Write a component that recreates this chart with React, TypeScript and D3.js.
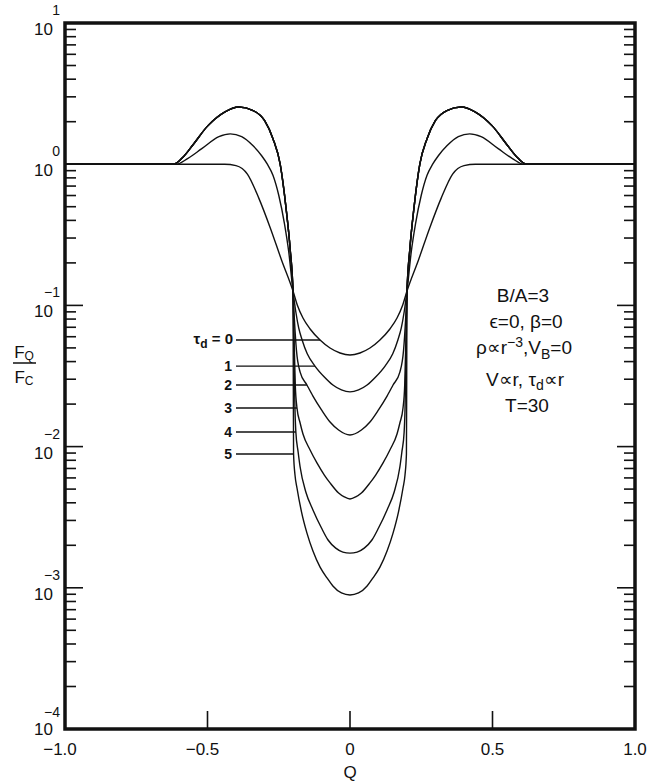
import React from 'react';
import * as d3 from 'd3';

type Pt = [number, number];

// Axis ticks / labels
const qLabelValues = [-1, -0.5, 0, 0.5, 1];
const qLabelTexts = ['−1.0', '−0.5', '0', '0.5', '1.0'];
const qInnerTicks = [-0.5, 0, 0.5];
const decadeExponents = [1, 0, -1, -2, -3, -4];
const decadeExpTexts = ['1', '0', '−1', '−2', '−3', '−4'];
const minorMultipliers = [2, 3, 4, 5, 6, 7, 8, 9];

// Wings (|Q| > 0.2)
const wingHighLeft: Pt[] = [[-1, 1], [-0.62, 1], [-0.59, 1.1], [-0.55, 1.38], [-0.5, 1.86], [-0.44, 2.34], [-0.39, 2.54], [-0.34, 2.4], [-0.3, 2.04], [-0.27, 1.51], [-0.245, 1], [-0.225, 0.501], [-0.21, 0.251]];
const wingHighRight: Pt[] = [[0.21, 0.251], [0.225, 0.501], [0.245, 1], [0.27, 1.51], [0.3, 2.04], [0.34, 2.4], [0.39, 2.54], [0.44, 2.34], [0.5, 1.86], [0.55, 1.38], [0.59, 1.1], [0.62, 1], [1, 1]];
const wingMidLeft: Pt[] = [[-1, 1], [-0.61, 1], [-0.57, 1.096], [-0.52, 1.288], [-0.46, 1.567], [-0.42, 1.641], [-0.38, 1.567], [-0.34, 1.349], [-0.31, 1.148], [-0.29, 1], [-0.27, 0.832], [-0.25, 0.603], [-0.23, 0.38], [-0.215, 0.24]];
const wingMidRight: Pt[] = [[0.215, 0.24], [0.23, 0.38], [0.25, 0.603], [0.27, 0.832], [0.29, 1], [0.31, 1.148], [0.34, 1.349], [0.38, 1.567], [0.42, 1.641], [0.46, 1.567], [0.52, 1.288], [0.57, 1.096], [0.61, 1], [1, 1]];
const wingFlatLeft: Pt[] = [[-1, 1], [-0.44, 1], [-0.4, 0.977], [-0.36, 0.851], [-0.32, 0.575], [-0.28, 0.355], [-0.24, 0.209]];
const wingFlatRight: Pt[] = [[0.24, 0.209], [0.28, 0.355], [0.32, 0.575], [0.36, 0.851], [0.4, 0.977], [0.44, 1], [1, 1]];

// Cores (|Q| <= 0.2)
const core0: Pt[] = [[-0.2, 0.1265], [-0.185, 0.1007], [-0.165, 0.0814], [-0.14, 0.0681], [-0.105, 0.0569], [-0.07, 0.0499], [-0.035, 0.046], [0, 0.0445], [0.035, 0.046], [0.07, 0.0499], [0.105, 0.0569], [0.14, 0.0681], [0.165, 0.0814], [0.185, 0.1007], [0.2, 0.1265]];
const core1: Pt[] = [[-0.2, 0.1265], [-0.19, 0.0898], [-0.18, 0.0692], [-0.168, 0.0569], [-0.15, 0.0454], [-0.123, 0.0372], [-0.09, 0.0311], [-0.06, 0.0273], [-0.03, 0.0252], [0, 0.0244], [0.03, 0.0252], [0.06, 0.0273], [0.09, 0.0311], [0.123, 0.0372], [0.15, 0.0454], [0.168, 0.0569], [0.18, 0.0692], [0.19, 0.0898], [0.2, 0.1265]];
const core2: Pt[] = [[-0.2, 0.1265], [-0.195, 0.0788], [-0.188, 0.0483], [-0.175, 0.0337], [-0.151, 0.0273], [-0.13, 0.0228], [-0.1, 0.0182], [-0.07, 0.01493], [-0.04, 0.01311], [0, 0.01208], [0.04, 0.01311], [0.07, 0.01493], [0.1, 0.0182], [0.13, 0.0228], [0.151, 0.0273], [0.175, 0.0337], [0.188, 0.0483], [0.195, 0.0788], [0.2, 0.1265]];
const core3: Pt[] = [[-0.2, 0.1265], [-0.196, 0.0569], [-0.192, 0.0273], [-0.186, 0.01877], [-0.175, 0.01469], [-0.165, 0.01228], [-0.14, 0.00946], [-0.116, 0.00766], [-0.09, 0.00629], [-0.07, 0.00553], [-0.04, 0.00469], [-0.02, 0.0044], [0, 0.00426], [0.02, 0.0044], [0.04, 0.00469], [0.07, 0.00553], [0.09, 0.00629], [0.116, 0.00766], [0.14, 0.00946], [0.165, 0.01228], [0.175, 0.01469], [0.186, 0.01877], [0.192, 0.0273], [0.196, 0.0569], [0.2, 0.1265]];
const core4: Pt[] = [[-0.2, 0.1265], [-0.197, 0.0483], [-0.193, 0.01816], [-0.19, 0.01269], [-0.182, 0.00916], [-0.175, 0.00717], [-0.155, 0.00477], [-0.13, 0.00356], [-0.1, 0.00265], [-0.077, 0.00218], [-0.05, 0.00191], [-0.025, 0.00179], [0, 0.00176], [0.025, 0.00179], [0.05, 0.00191], [0.077, 0.00218], [0.1, 0.00265], [0.13, 0.00356], [0.155, 0.00477], [0.175, 0.00717], [0.182, 0.00916], [0.19, 0.01269], [0.193, 0.01816], [0.197, 0.0483], [0.2, 0.1265]];
const core5: Pt[] = [[-0.2, 0.1265], [-0.199, 0.0321], [-0.198, 0.00886], [-0.193, 0.00629], [-0.186, 0.00509], [-0.17, 0.00344], [-0.151, 0.00244], [-0.13, 0.00182], [-0.105, 0.0014], [-0.08, 0.00117], [-0.06, 0.00103], [-0.03, 0.000919], [0, 0.000889], [0.03, 0.000919], [0.06, 0.00103], [0.08, 0.00117], [0.105, 0.0014], [0.13, 0.00182], [0.151, 0.00244], [0.17, 0.00344], [0.186, 0.00509], [0.193, 0.00629], [0.198, 0.00886], [0.199, 0.0321], [0.2, 0.1265]];

const series: Pt[][] = [
  [...wingFlatLeft, ...core0, ...wingFlatRight],
  [...wingMidLeft, ...core1, ...wingMidRight],
  [...wingHighLeft, ...core2, ...wingHighRight],
  [...wingHighLeft, ...core3, ...wingHighRight],
  [...wingHighLeft, ...core4, ...wingHighRight],
  [...wingHighLeft, ...core5, ...wingHighRight],
];

// Curve labels (tau_d values) and where their leaders meet the curves
const tauLabels = ['0', '1', '2', '3', '4', '5'];
const leaderTargetQ = [-0.105, -0.123, -0.151, -0.186, -0.19, -0.198];
const leaderTargetF = [0.0569, 0.0372, 0.0273, 0.01877, 0.01269, 0.00886];
const leaderStartQ = -0.4;

const FONT = '"Liberation Sans", Arial, Helvetica, sans-serif';

export default function App() {
  const W = 648, H = 784;
  const x = d3.scaleLinear().domain([-1, 1]).range([65, 635]);
  const y = d3.scaleLog().domain([1e-4, 10]).range([729, 23]);
  const line = d3.line<Pt>().x(d => x(d[0])).y(d => y(d[1])).curve(d3.curveMonotoneX);

  const minorTicks: number[] = [];
  decadeExponents.slice(1).forEach(e => {
    minorMultipliers.forEach(m => minorTicks.push(m * Math.pow(10, e)));
  });
  const majorInner = decadeExponents.filter(e => e < 1 && e > -4).map(e => Math.pow(10, e));

  return (
    <svg width={W} height={H} style={{ position: 'absolute', left: 0, top: 0, background: '#fff' }} fontFamily={FONT}>
      <rect x={0} y={0} width={W} height={H} fill="#fff" />
      {/* curves */}
      {series.map((s, i) => (
        <path key={i} d={line(s) || ''} fill="none" stroke="#111" strokeWidth={1.4} strokeLinejoin="round" />
      ))}
      {/* minor ticks */}
      {minorTicks.map((v, i) => (
        <g key={'m' + i}>
          <line x1={x(-1)} x2={x(-1) + 11} y1={y(v)} y2={y(v)} stroke="#111" strokeWidth={1.6} />
          <line x1={x(1)} x2={x(1) - 11} y1={y(v)} y2={y(v)} stroke="#111" strokeWidth={1.6} />
        </g>
      ))}
      {majorInner.map((v, i) => (
        <g key={'M' + i}>
          <line x1={x(-1)} x2={x(-1) + 18} y1={y(v)} y2={y(v)} stroke="#111" strokeWidth={1.6} />
          <line x1={x(1)} x2={x(1) - 18} y1={y(v)} y2={y(v)} stroke="#111" strokeWidth={1.6} />
        </g>
      ))}
      {qInnerTicks.map((q, i) => (
        <line key={'q' + i} x1={x(q)} x2={x(q)} y1={y(1e-4)} y2={y(1e-4) - 18} stroke="#111" strokeWidth={1.6} />
      ))}
      {/* frame */}
      <rect x={x(-1)} y={y(10)} width={x(1) - x(-1)} height={y(1e-4) - y(10)} fill="none" stroke="#111" strokeWidth={3.5} />
      {/* y tick labels */}
      {decadeExponents.map((e, i) => {
        const yy = y(Math.pow(10, e));
        const last = i === decadeExponents.length - 1;
        return (
          <g key={'yl' + i} fill="#111">
            <text x={53} y={yy + (last ? 6 : 12)} fontSize={17} textAnchor="end">10</text>
            <text x={60} y={yy - (last ? 12 : 8)} fontSize={14} textAnchor="end">{decadeExpTexts[i]}</text>
          </g>
        );
      })}
      {/* x tick labels */}
      {qLabelValues.map((q, i) => (
        <text key={'xl' + i} x={x(q) + (q < 0 ? -5 : 0)} y={755} fontSize={17} textAnchor="middle" fill="#111">{qLabelTexts[i]}</text>
      ))}
      <text x={x(0)} y={778} fontSize={17} textAnchor="middle" fill="#111">Q</text>
      {/* y label fraction */}
      <text x={24} y={358} fontSize={17} textAnchor="middle" fill="#111">F<tspan fontSize={12} dy={2}>Q</tspan></text>
      <line x1={13} x2={36} y1={363} y2={363} stroke="#111" strokeWidth={1.5} />
      <text x={24} y={383} fontSize={17} textAnchor="middle" fill="#111">F<tspan fontSize={12} dy={2}>C</tspan></text>
      {/* curve labels */}
      {tauLabels.map((t, i) => {
        const yy = y(leaderTargetF[i]);
        return (
          <g key={'tl' + i}>
            <line x1={x(leaderStartQ)} x2={x(leaderTargetQ[i])} y1={yy} y2={yy} stroke="#111" strokeWidth={1.3} />
            {i === 0 ? (
              <text x={x(leaderStartQ) - 3} y={yy + 4} fontSize={15} fontWeight="bold" textAnchor="end" fill="#111">
                τ<tspan fontSize={12} dy={4}>d</tspan><tspan dy={-4}> = 0</tspan>
              </text>
            ) : (
              <text x={x(leaderStartQ) - 4} y={yy + 5} fontSize={14} fontWeight="bold" textAnchor="end" fill="#111">{t}</text>
            )}
          </g>
        );
      })}
      {/* annotation */}
      <g fontSize={19} textAnchor="middle" fill="#111">
        <text x={523} y={302}>B/A=3</text>
        <text x={526} y={328}>ϵ=0, β=0</text>
        <text x={524} y={354}>ρ∝r<tspan fontSize={14} dy={-7}>−3</tspan><tspan dy={7}>,V</tspan><tspan fontSize={14} dy={5}>B</tspan><tspan dy={-5}>=0</tspan></text>
        <text x={525} y={386}>V∝r, τ<tspan fontSize={14} dy={4}>d</tspan><tspan dy={-4}>∝r</tspan></text>
        <text x={527} y={412}>T=30</text>
      </g>
    </svg>
  );
}
